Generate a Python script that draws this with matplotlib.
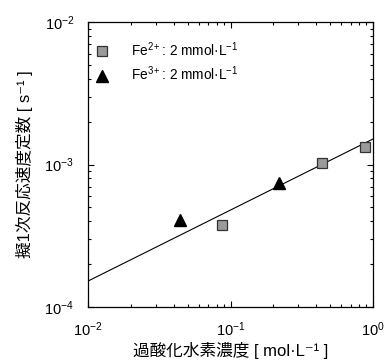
import matplotlib
matplotlib.use("Agg")
import matplotlib.pyplot as plt
from matplotlib.ticker import LogLocator, LogFormatterMathtext, NullFormatter

plt.rcParams["font.family"] = ["Liberation Sans", "Noto Sans CJK JP", "DejaVu Sans"]
plt.rcParams["mathtext.fontset"] = "custom"
plt.rcParams["mathtext.rm"] = "Liberation Sans"
plt.rcParams["mathtext.it"] = "Liberation Sans"

# data
fe2_x = [0.087, 0.44, 0.88]
fe2_k = [3.78e-4, 1.02e-3, 1.33e-3]
fe3_x = [0.044, 0.22]
fe3_k = [4.1e-4, 7.4e-4]
fit_x = [0.01, 1.0]
fit_k = [1.52e-4, 1.51e-3]

fig = plt.figure(figsize=(3.87, 3.63), dpi=100)
ax = fig.add_axes([88 / 387, 56 / 363, 285 / 387, 285 / 363])

ax.plot(fit_x, fit_k, color="black", lw=0.8, zorder=1)
ax.plot(fe2_x, fe2_k, ls="none", marker="s", ms=7.5, mfc="#9a9a9a",
        mec="#333333", mew=0.9, label="Fe$^{2+}$: 2 mmol·L$^{-1}$", zorder=3)
ax.plot(fe3_x, fe3_k, ls="none", marker="^", ms=8, mfc="black",
        mec="black", label="Fe$^{3+}$: 2 mmol·L$^{-1}$", zorder=3)

ax.set_xscale("log")
ax.set_yscale("log")
ax.set_xlim(0.01, 1)
ax.set_ylim(1e-4, 1e-2)

for a in (ax.xaxis, ax.yaxis):
    a.set_major_locator(LogLocator(base=10))
    a.set_minor_locator(LogLocator(base=10, subs=range(2, 10)))
    a.set_major_formatter(LogFormatterMathtext())
    a.set_minor_formatter(NullFormatter())

ax.tick_params(which="both", direction="in", top=True, right=True, width=0.8)
ax.tick_params(which="major", length=4.5, labelsize=10.5)
ax.tick_params(which="minor", length=2.5)
ax.tick_params(axis="x", which="major", pad=10)
ax.tick_params(axis="y", which="major", pad=10)
for s in ax.spines.values():
    s.set_linewidth(0.9)

ax.set_xlabel("過酸化水素濃度 [ mol·L⁻¹ ]", fontsize=12, labelpad=2)
ax.set_ylabel("擬1次反応速度定数 [ s⁻¹ ]", fontsize=12, labelpad=8)

ax.legend(loc="upper left", frameon=False, fontsize=9.8, handletextpad=1.1,
          borderaxespad=0.5, labelspacing=0.45, bbox_to_anchor=(-0.04, 0.98))

fig.savefig("out.png", dpi=100)
